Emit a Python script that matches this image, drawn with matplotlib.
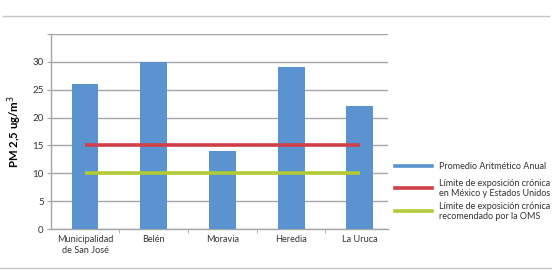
import matplotlib
matplotlib.use("Agg")
import matplotlib.pyplot as plt
from matplotlib.lines import Line2D

plt.rcParams['font.family'] = ['Lato', 'DejaVu Sans']

categories = ["Municipalidad\nde San José", "Belén", "Moravia", "Heredia", "La Uruca"]
promedio = [26, 30, 14, 29, 22]
limite_mex_usa = 15
limite_oms = 10
series_labels = ["Promedio Aritmético Anual",
                 "Límite de exposición crónica\nen México y Estados Unidos",
                 "Límite de exposición crónica\nrecomendado por la OMS"]
yticks = [0, 5, 10, 15, 20, 25, 30, 35]
ytick_labels = ["0", "5", "10", "15", "20", "25", "30", ""]

blue = "#5b93d0"
red = "#cf4048"
green = "#b2cb37"
grid_c = "#a6a6a6"

W, H = 552, 271
fig = plt.figure(figsize=(W/100, H/100), dpi=100)
ax = fig.add_axes([50.6/W, 1-229.3/H, (388-50.6)/W, (229.3-33.7)/H])

x = list(range(len(categories)))
ax.bar(x, promedio, width=0.39, color=blue, zorder=3)
ax.plot([x[0], x[-1]], [limite_mex_usa]*2, color=red, lw=2.6, zorder=4, solid_capstyle='butt')
ax.plot([x[0], x[-1]], [limite_oms]*2, color=green, lw=2.6, zorder=4, solid_capstyle='butt')

ax.set_xlim(-0.5, 4.41)
ax.set_ylim(0, 35)
ax.set_yticks(yticks)
ax.set_yticklabels(ytick_labels)
ax.yaxis.grid(True, color=grid_c, lw=1.0, zorder=0)
ax.set_axisbelow(True)

ax.set_xticks(x)
ax.set_xticklabels(categories, fontsize=6.6, color="#333333", linespacing=1.3)
ax.set_xticks([i + 0.5 for i in x[:-1]], minor=True)
ax.tick_params(axis='x', which='major', length=0, pad=4)
ax.tick_params(axis='x', which='minor', length=3, color=grid_c, direction='out')
ax.tick_params(axis='y', length=3, color=grid_c, labelsize=7, labelcolor="#333333", pad=2)

for s in ['top', 'right']:
    ax.spines[s].set_visible(False)
for s in ['left', 'bottom']:
    ax.spines[s].set_color(grid_c)
    ax.spines[s].set_linewidth(1.0)

ax.set_ylabel("PM 2,5 ug/m$^3$", fontsize=8.2, fontweight='bold', labelpad=6)

# outer frame lines
fig.add_artist(Line2D([3/W, 549/W], [1-16/H]*2, color="#c4c4c4", lw=1.0))
fig.add_artist(Line2D([0, 1], [1-268/H]*2, color="#c4c4c4", lw=1.0))

# legend (manual placement)
legend_colors = [blue, red, green]
legend_y = [165.7, 188.3, 210.8]
for c, lab, yy in zip(legend_colors, series_labels, legend_y):
    fig.add_artist(Line2D([395/W, 432/W], [1-yy/H]*2, color=c, lw=2.6))
    fig.text(439/W, 1-(yy+0.5)/H, lab, fontsize=6.5, color="#333333",
             va='center', ha='left', linespacing=1.15)

fig.savefig("out.png", dpi=100)
